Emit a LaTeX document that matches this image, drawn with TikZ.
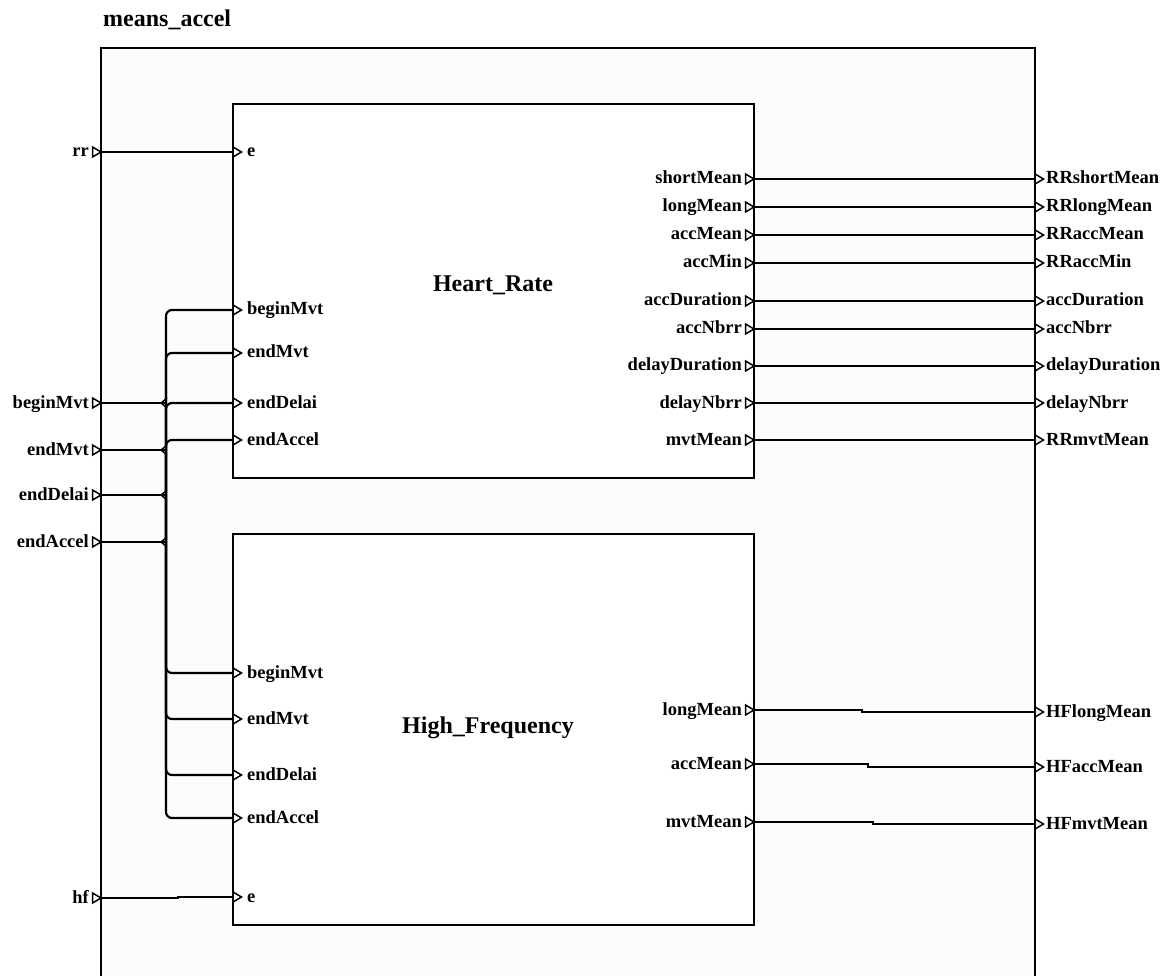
\documentclass[tikz,border=0pt]{standalone}
\usepackage{fontspec}
\setmainfont{Liberation Serif}
\definecolor{diagbg}{RGB}{252,252,252}
\tikzset{
  wire/.style={line width=2.2pt},
  blockedge/.style={line width=2.4pt},
  porttri/.style={line width=1.5pt, fill=white, line join=miter},
  forkmark/.style={line width=1.4pt},
  lbl/.style={font=\fontsize{18.5}{20}\selectfont\bfseries, inner sep=0pt},
  ttl/.style={font=\fontsize{24}{26}\selectfont\bfseries, inner sep=0pt},
}
% open port triangle, base at x=#1, wire at y=#2
\newcommand{\porttip}[2]{\draw[porttri] (#1,#2-5) -- (#1+8.5,#2) -- (#1,#2+5) -- cycle;}
\begin{document}
\begin{tikzpicture}[x=1pt, y=-1pt]
  \useasboundingbox (0,0) rectangle (1168,976);
  % outer system, open at the bottom
  \fill[diagbg] (101,48) rectangle (1035,976);
  \draw[blockedge] (101,976) -- (101,48) -- (1035,48) -- (1035,976);
  \node[ttl, anchor=base west] (sysname) at (103,27) {means\_accel};

  % the two blocks
  \draw[blockedge, fill=white] (233,104) rectangle (754,478);
  \draw[blockedge, fill=white] (233,534) rectangle (754,925);
  \node[ttl, anchor=base] (hrname) at (493,292) {Heart\_Rate};
  \node[ttl, anchor=base] (hfname) at (488,733) {High\_Frequency};

  % rr -> Heart_Rate.e
  \coordinate (m-rr) at (101,152);
  \coordinate (hr-e) at (233,152);
  \draw[wire] (m-rr) -- (hr-e);
  \porttip{92.5}{152}
  \porttip{233}{152}
  \node[lbl, anchor=base east] (l-rr) at (89,157) {rr};
  \node[lbl, anchor=base west] (l-hre) at (247,157) {e};

  % hf -> High_Frequency.e
  \coordinate (m-hf) at (101,898);
  \coordinate (hf-e) at (233,897);
  \draw[wire] (m-hf) -- (178,898) |- (hf-e);
  \porttip{92.5}{898}
  \porttip{233}{897}
  \node[lbl, anchor=base east] (l-hf) at (89,903) {hf};
  \node[lbl, anchor=base west] (l-hfe) at (247,902) {e};

  % shared inputs: split on the bus to both blocks
  \foreach \yin/\yhr/\yhf/\pname [count=\i] in
    {403/310/673/beginMvt, 450/353/719/endMvt, 495/403/775/endDelai, 542/440/818/endAccel}{
    \coordinate (m-in\i) at (101,\yin);
    \coordinate (bus\i) at (166,\yin);
    \coordinate (hr-in\i) at (233,\yhr);
    \coordinate (hf-in\i) at (233,\yhf);
    \draw[wire] (m-in\i) -- (bus\i);
    \draw[wire, rounded corners=6pt] (bus\i) |- (hr-in\i);
    \draw[wire, rounded corners=6pt] (bus\i) |- (hf-in\i);
    \draw[forkmark] (167,\yin-5) -- (161,\yin) -- (167,\yin+5);
    \porttip{92.5}{\yin}
    \porttip{233}{\yhr}
    \porttip{233}{\yhf}
    \node[lbl, anchor=base east] (l-m\i) at (89,\yin+5) {\pname};
    \node[lbl, anchor=base west] (l-hr\i) at (247,\yhr+5) {\pname};
    \node[lbl, anchor=base west] (l-hf\i) at (247,\yhf+5) {\pname};
  }

  % Heart_Rate outputs
  \foreach \y/\pin/\pout [count=\i] in
    {179/shortMean/RRshortMean, 207/longMean/RRlongMean, 235/accMean/RRaccMean,
     263/accMin/RRaccMin, 301/accDuration/accDuration, 329/accNbrr/accNbrr,
     366/delayDuration/delayDuration, 403/delayNbrr/delayNbrr, 440/mvtMean/RRmvtMean}{
    \coordinate (hr-out\i) at (754,\y);
    \coordinate (m-out\i) at (1035,\y);
    \draw[wire] (hr-out\i) -- (m-out\i);
    \porttip{745.5}{\y}
    \porttip{1035}{\y}
    \node[lbl, anchor=base east] (l-hro\i) at (742,\y+5) {\pin};
    \node[lbl, anchor=base west] (l-mo\i) at (1046,\y+5) {\pout};
  }

  % High_Frequency outputs
  \foreach \ya/\yb/\xj/\pin/\pout [count=\i] in
    {710/712/862/longMean/HFlongMean, 764/767/868/accMean/HFaccMean,
     822/824/873/mvtMean/HFmvtMean}{
    \coordinate (hf-out\i) at (754,\ya);
    \coordinate (m-hfout\i) at (1035,\yb);
    \draw[wire] (hf-out\i) -- (\xj,\ya) |- (m-hfout\i);
    \porttip{745.5}{\ya}
    \porttip{1035}{\yb}
    \node[lbl, anchor=base east] (l-hfo\i) at (742,\ya+5) {\pin};
    \node[lbl, anchor=base west] (l-mho\i) at (1046,\yb+5) {\pout};
  }
\end{tikzpicture}
\end{document}
